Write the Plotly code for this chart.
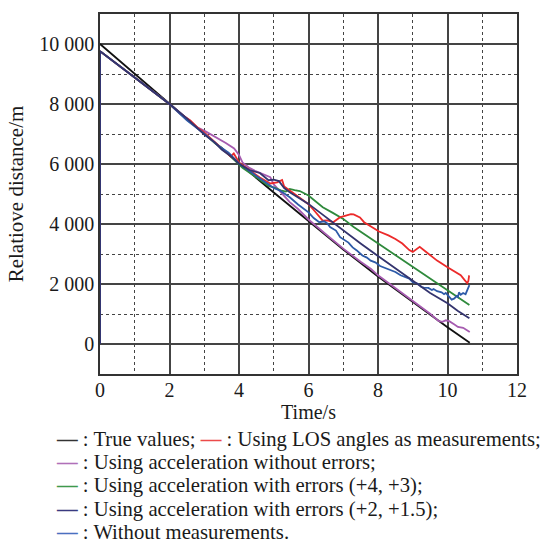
import plotly.graph_objects as go

# ---------------- data ----------------
true_t = [0, 1, 2, 3, 4, 5, 6, 7, 8, 9, 10, 10.64]
true_d = [10000, 9000, 8000, 7000, 6020, 5050, 4090, 3150, 2250, 1390, 560, 40]

los_t = [0, 0, 2, 2.3, 2.6, 2.8, 3.0, 3.3, 3.6, 3.76, 3.85, 4.0, 4.3, 4.6, 4.9, 5.1, 5.24,
         5.3, 5.5, 5.7, 6.0, 6.2, 6.41, 6.55, 6.71, 6.9, 7.08, 7.22, 7.3, 7.48, 7.6, 7.8,
         8.03, 8.3, 8.5, 8.7, 8.9, 9.0, 9.1, 9.2, 9.35, 9.5, 9.7, 10.0, 10.2, 10.38, 10.5,
         10.57, 10.6, 10.62, 10.64]
los_d = [0, 9760, 8000, 7680, 7450, 7220, 7050, 6750, 6420, 6250, 6350, 6050, 5800, 5550,
         5350, 5390, 5470, 5250, 5080, 4900, 4660, 4400, 4110, 4120, 4060, 4220, 4280, 4330,
         4320, 4220, 4060, 3920, 3750, 3620, 3500, 3350, 3130, 3070, 3150, 3240, 3100, 2950,
         2780, 2560, 2430, 2290, 2120, 2030, 2100, 2260, 2250]

acc_t = [0, 0, 2, 2.4, 2.8, 3.05, 3.33, 3.62, 3.86, 4.0, 4.1, 4.3, 4.48, 4.76, 4.9, 5.0,
         5.2, 5.38, 5.46, 5.7, 6.0, 6.5, 7.0, 7.5, 7.8, 8.0, 8.5, 9.0, 9.5, 9.74, 9.85,
         9.95, 10.05, 10.2, 10.3, 10.45, 10.55, 10.64]
acc_d = [0, 9760, 8000, 7620, 7220, 7080, 6900, 6700, 6520, 6300, 6050, 5870, 5760, 5640,
         5560, 5320, 5050, 4800, 4730, 4500, 4150, 3660, 3180, 2740, 2500, 2290, 1870, 1450,
         1010, 770, 740, 790, 760, 650, 570, 540, 460, 400]

err43_t = [0, 0, 2, 2.5, 3, 3.3, 3.5, 3.8, 4.0, 4.1, 4.38, 4.6, 4.86, 5.0, 5.2, 5.35, 5.46,
           5.6, 5.75, 6.0, 6.2, 6.41, 6.7, 7.0, 7.3, 7.74, 8.0, 8.5, 9.0, 9.5, 10.0, 10.3,
           10.63]
err43_d = [0, 9760, 8000, 7480, 7020, 6700, 6540, 6200, 6000, 5870, 5650, 5480, 5260, 5220,
           5120, 5080, 5170, 5130, 5100, 4950, 4750, 4560, 4370, 4170, 3900, 3560, 3330, 2960,
           2580, 2200, 1800, 1560, 1300]

err215_t = [0, 0, 2, 2.5, 3, 3.3, 3.5, 3.8, 4, 4.3, 4.6, 4.85, 5.0, 5.15, 5.3, 5.46, 6, 6.5,
            7, 7.5, 8, 8.5, 9, 9.5, 10, 10.3, 10.63]
err215_d = [0, 9760, 8000, 7520, 6980, 6720, 6480, 6230, 6010, 5800, 5700, 5460, 5480, 5430,
            5200, 5060, 4670, 4220, 3790, 3350, 2930, 2510, 2100, 1700, 1360, 1100, 855]

nomeas_t = [0, 0, 2, 2.5, 3, 3.4, 3.7, 4, 4.5, 5.0, 5.2, 5.46, 5.7, 6.0, 6.15, 6.31, 6.45,
            6.55, 6.62, 6.79, 6.91, 7.0, 7.15, 7.27, 7.39, 7.55, 7.68, 7.79, 7.92, 8.06, 8.2,
            8.36, 8.5, 8.65, 8.8, 8.9, 9.0, 9.15, 9.25, 9.32, 9.45, 9.55, 9.6, 9.7, 9.83, 9.9,
            9.95, 10.05, 10.12, 10.2, 10.26, 10.3, 10.33, 10.38, 10.45, 10.52, 10.58, 10.63]
nomeas_d = [0, 9760, 8000, 7460, 7010, 6620, 6380, 6020, 5600, 5200, 5100, 4890, 4650, 4390,
            4200, 4060, 4090, 4010, 3900, 3780, 3560, 3500, 3380, 3220, 3120, 2950, 2880,
            2780, 2720, 2600, 2540, 2460, 2400, 2290, 2230, 2180, 2060, 2010, 1900, 1880,
            1870, 1800, 1830, 1760, 1720, 1660, 1700, 1580, 1480, 1520, 1600, 1560, 1720,
            1640, 1700, 1660, 1820, 1960]

x_tickvals = [0, 2, 4, 6, 8, 10, 12]
x_ticktext = ["0", "2", "4", "6", "8", "10", "12"]
y_tickvals = [0, 2000, 4000, 6000, 8000, 10000]
y_ticktext = ["0", "2 000", "4 000", "6 000", "8 000", "10 000"]

series = [
    ("True values", true_t, true_d, "#111111"),
    ("Using acceleration without errors", acc_t, acc_d, "#a65cb0"),
    ("Using acceleration with errors (+4, +3)", err43_t, err43_d, "#2f8a3c"),
    ("Using LOS angles as measurements", los_t, los_d, "#ec2a2a"),
    ("Without measurements", nomeas_t, nomeas_d, "#2d5aa8"),
    ("Using acceleration with errors (+2, +1.5)", err215_t, err215_d, "#34346e"),
]

FONT = "'Liberation Serif', 'Times New Roman', Times, serif"

fig = go.Figure()
for name, t, d, c in series:
    fig.add_trace(go.Scatter(x=t, y=d, mode="lines", name=name,
                             line=dict(color=c, width=1.8), showlegend=False))

axis_common = dict(
    showline=True, mirror=True, linecolor="#333333", linewidth=1.5,
    showgrid=True, gridcolor="#444444", gridwidth=1.5,
    zeroline=False, ticks="", tickfont=dict(family=FONT, size=20, color="#1a1a1a"),
)

fig.update_xaxes(range=[0, 12], tickmode="array", tickvals=x_tickvals, ticktext=x_ticktext,
                 ticklabelstandoff=-3,
                 minor=dict(dtick=1, tick0=0, showgrid=True, griddash="dot",
                            gridcolor="#444444", gridwidth=1.2),
                 title=dict(text="Time/s", font=dict(family=FONT, size=20, color="#1a1a1a"),
                            standoff=2),
                 **axis_common)
fig.update_yaxes(range=[-1000, 11000], tickmode="array", tickvals=y_tickvals,
                 ticktext=y_ticktext,
                 minor=dict(dtick=1000, tick0=0, showgrid=True, griddash="dot",
                            gridcolor="#444444", gridwidth=1.2),
                 title=dict(text="Relatiove distance/m",
                            font=dict(family=FONT, size=21, color="#1a1a1a"), standoff=10),
                 **axis_common)

legend_lines = [
    ('<span style="color:#333333"><b>—</b></span> : True values; '
     '<span style="color:#ec4a4a"><b>—</b></span> : Using LOS angles as measurements;'),
    '<span style="color:#b070b8"><b>—</b></span> : Using acceleration without errors;',
    '<span style="color:#3f9a4c"><b>—</b></span> : Using acceleration with errors (+4, +3);',
    '<span style="color:#3a3a80"><b>—</b></span> : Using acceleration with errors (+2, +1.5);',
    '<span style="color:#4a70c0"><b>—</b></span> : Without measurements.',
]
plot_left, plot_w, plot_bottom, plot_h = 100, 417, 374, 362
line_y = [440, 463, 486, 510, 533]
for txt, py in zip(legend_lines, line_y):
    fig.add_annotation(text=txt, xref="paper", yref="paper",
                       x=(54 - plot_left) / plot_w, y=(plot_bottom - py) / plot_h,
                       xanchor="left", yanchor="middle", showarrow=False, align="left",
                       font=dict(family=FONT, size=20.7, color="#1a1a1a"))

fig.update_layout(
    width=555, height=551,
    margin=dict(l=100, r=38, t=12, b=177),
    paper_bgcolor="white", plot_bgcolor="white",
    font=dict(family=FONT, size=20, color="#1a1a1a"),
)

fig.write_html("out.html")
